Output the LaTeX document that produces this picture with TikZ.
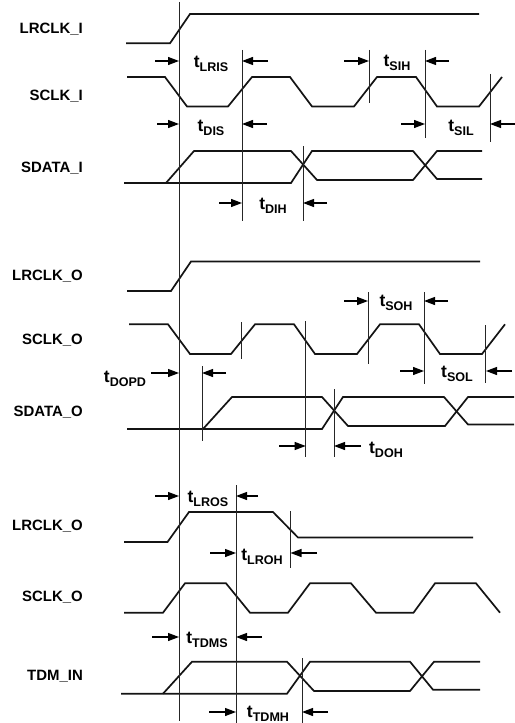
\documentclass[tikz,border=0pt]{standalone}
\usepackage{fontspec}
\setmainfont{Liberation Sans}[BoldFont={Liberation Sans Bold}]
\usetikzlibrary{arrows.meta}
\newcommand{\tsub}[1]{t\raisebox{-3.8bp}{\fontsize{12.6}{13}\selectfont #1}}
\tikzset{
  x=1bp,y=-1bp,
  signal/.style={line width=1.7bp,black!92,line join=miter},
  guide/.style={line width=0.7bp,black!85},
  dimarrow/.style={line width=1.2bp,-{Stealth[length=11bp,width=8bp,inset=0pt]}},
  sig name/.style={font=\fontsize{15}{16}\selectfont\bfseries,anchor=east,inner sep=0pt},
  tlabel/.style={font=\fontsize{17.5}{18}\selectfont\bfseries,inner sep=0pt}
}
\begin{document}
\begin{tikzpicture}
\useasboundingbox (0,0) rectangle (515,723);
\fill[white] (0,0) rectangle (515,723);
% names
\node[sig name] (n1) at (83,29) {LRCLK\_I};
\node[sig name] (n2) at (83,96) {SCLK\_I};
\node[sig name] (n3) at (83,168) {SDATA\_I};
\node[sig name] (n4) at (83,276) {LRCLK\_O};
\node[sig name] (n5) at (83,340) {SCLK\_O};
\node[sig name] (n6) at (83,412) {SDATA\_O};
\node[sig name] (n7) at (83,526) {LRCLK\_O};
\node[sig name] (n8) at (83,597) {SCLK\_O};
\node[sig name] (n9) at (83,676) {TDM\_IN};
% waveforms, top
\draw[signal] (126,43.3)--(170,43.3)--(190,14)--(479,14);
\draw[signal] (127,77)--(165,77)--(187,106.5)--(228,106.5)--(252,77)--(290,77)--(312,106.5)--(354,106.5)--(377,77)--(416,77)--(437,106.5)--(479,106.5)--(502,77);
\draw[signal] (124,183)--(291,183)--(312,151)--(413,151)--(437,179)--(482,179);
\draw[signal] (166,183)--(194,151)--(291,151)--(317,180)--(413,180)--(437,151)--(482,151);
% waveforms, middle
\draw[signal] (127,291)--(171,291)--(191,261.5)--(480,261.5);
\draw[signal] (129,324.3)--(168,324.3)--(190,354)--(231,354)--(255,324.3)--(294,324.3)--(315,354)--(357,354)--(380,324.3)--(419,324.3)--(440,354)--(482,354)--(505,324.3);
\draw[signal] (127,429)--(322,429)--(343,397)--(444,397)--(468,424.5)--(514,424.5);
\draw[signal] (203,429)--(232,397)--(322,397)--(348,426)--(445,426)--(468,397)--(514,397);
% waveforms, bottom
\draw[signal] (124,542)--(167.5,542)--(189,512)--(273,512)--(298,537.5)--(473,537.5);
\draw[signal] (124,612.7)--(163,612.7)--(185,583.3)--(226,583.3)--(250,612.7)--(288,612.7)--(310,583.3)--(351,583.3)--(376,612.7)--(413.5,612.7)--(435,583.3)--(476,583.3)--(500,612.7);
\draw[signal] (121,693.7)--(287,693.7)--(310,661.7)--(410,661.7)--(433,689.7)--(480,689.7);
\draw[signal] (163,693.7)--(192,661.7)--(287,661.7)--(314,691)--(410,691)--(434,661.7)--(480,661.7);
% guides
\draw[guide] (179,2)--(179,721);
\draw[guide] (242,50)--(242,221);
\draw[guide] (303,146)--(303,221);
\draw[guide] (369,50)--(369,103);
\draw[guide] (425,50)--(425,138);
\draw[guide] (490,74)--(490,142);
\draw[guide] (241,322)--(241,359);
\draw[guide] (305.7,321)--(305.7,457);
\draw[guide] (368,292)--(368,364);
\draw[guide] (424,292)--(424,384);
\draw[guide] (485.5,325)--(485.5,383);
\draw[guide] (202,366)--(202,441);
\draw[guide] (334,389)--(334,457);
\draw[guide] (236,485)--(236,723);
\draw[guide] (290.5,511)--(290.5,568);
\draw[guide] (302,658)--(302,723);
% arrows
\draw[dimarrow] (155,61)--(179,61); \draw[dimarrow] (268,61)--(242,61);
\draw[dimarrow] (344,61)--(369,61); \draw[dimarrow] (449,61)--(425,61);
\draw[dimarrow] (157,124)--(179,124); \draw[dimarrow] (267,124)--(242,124);
\draw[dimarrow] (401,124)--(425,124); \draw[dimarrow] (515,124)--(490,124);
\draw[dimarrow] (219,203)--(242,203); \draw[dimarrow] (327,203)--(303,203);
\draw[dimarrow] (151,373)--(179,373); \draw[dimarrow] (226,373)--(202,373);
\draw[dimarrow] (344,301)--(368,301); \draw[dimarrow] (448,301)--(424,301);
\draw[dimarrow] (400,371)--(424,371); \draw[dimarrow] (512,371)--(486,371);
\draw[dimarrow] (279,446)--(305.7,446); \draw[dimarrow] (361,446)--(334,446);
\draw[dimarrow] (155,496)--(179,496); \draw[dimarrow] (258,496)--(236,496);
\draw[dimarrow] (210,553)--(236,553); \draw[dimarrow] (317,553)--(290.5,553);
\draw[dimarrow] (152,637)--(179,637); \draw[dimarrow] (262,637)--(236,637);
\draw[dimarrow] (209,712)--(236,712); \draw[dimarrow] (328,712)--(302,712);
% labels
\node[tlabel] (l1) at (211,64) {\tsub{LRIS}};
\node[tlabel] (l2) at (397,63) {\tsub{SIH}};
\node[tlabel] (l3) at (211,128) {\tsub{DIS}};
\node[tlabel] (l4) at (461,128) {\tsub{SIL}};
\node[tlabel] (l5) at (273,206) {\tsub{DIH}};
\node[tlabel] (l6) at (125,379) {\tsub{DOPD}};
\node[tlabel] (l7) at (396,303) {\tsub{SOH}};
\node[tlabel] (l8) at (457,374) {\tsub{SOL}};
\node[tlabel] (l9) at (386,450) {\tsub{DOH}};
\node[tlabel] (l10) at (208,499) {\tsub{LROS}};
\node[tlabel] (l11) at (262,557) {\tsub{LROH}};
\node[tlabel] (l12) at (207,640) {\tsub{TDMS}};
\node[tlabel] (l13) at (268,714) {\tsub{TDMH}};
\end{tikzpicture}
\end{document}
